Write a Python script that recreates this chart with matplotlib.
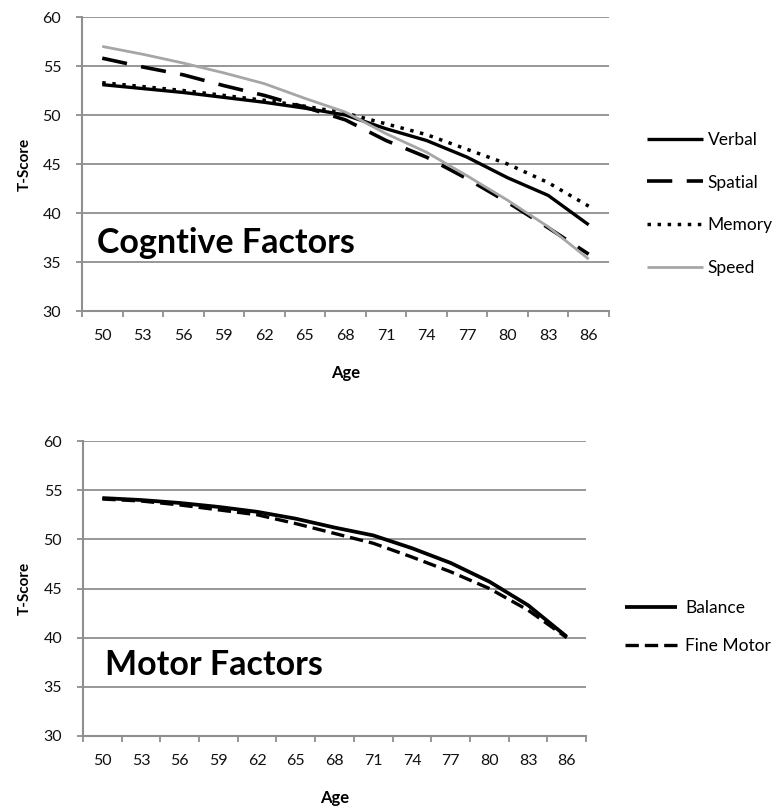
import matplotlib
matplotlib.use('Agg')
import matplotlib.pyplot as plt
import numpy as np

ages = [50, 53, 56, 59, 62, 65, 68, 71, 74, 77, 80, 83, 86]
verbal = [53.1, 52.7, 52.3, 51.8, 51.3, 50.7, 50.0, 48.6, 47.4, 45.7, 43.6, 41.8, 38.8]
spatial = [55.8, 54.9, 54.1, 53.0, 52.0, 50.8, 49.5, 47.4, 45.7, 43.5, 41.1, 38.5, 35.8]
memory = [53.3, 52.9, 52.5, 52.0, 51.5, 50.9, 50.2, 49.1, 48.0, 46.5, 45.0, 43.1, 40.7]
speed = [57.0, 56.2, 55.3, 54.3, 53.2, 51.7, 50.3, 48.1, 46.2, 43.8, 41.3, 38.6, 35.3]

balance = [54.2, 54.0, 53.7, 53.3, 52.8, 52.1, 51.2, 50.4, 49.1, 47.6, 45.7, 43.3, 40.1]
fine_motor = [54.1, 53.9, 53.5, 53.0, 52.5, 51.6, 50.6, 49.6, 48.2, 46.7, 45.0, 42.8, 40.0]

yticks = [30, 35, 40, 45, 50, 55, 60]

plt.rcParams['font.family'] = ['Lato', 'DejaVu Sans']

GRID = '#8f8f8f'

fig = plt.figure(figsize=(7.8, 8.11), dpi=100)
ax1 = fig.add_axes([0.1051, 0.6165, 0.6756, 0.3625])
ax2 = fig.add_axes([0.1064, 0.0925, 0.645, 0.3637])


def style(ax, ylab_x):
    x = np.arange(len(ages))
    ax.set_xlim(-0.5, len(ages) - 0.5)
    ax.set_ylim(30, 60)
    ax.set_yticks(yticks)
    ax.set_yticklabels([str(v) for v in yticks])
    ax.set_xticks(x)
    ax.set_xticklabels([str(a) for a in ages])
    ax.set_xticks(np.arange(-0.5, len(ages)), minor=True)
    ax.tick_params(axis='x', which='major', length=0, pad=13, labelsize=11.5, labelcolor='#111111')
    ax.tick_params(axis='x', which='minor', length=4, color=GRID, width=1.3, direction='out')
    ax.tick_params(axis='y', length=4, color=GRID, width=1.3, pad=11, labelsize=11.5, labelcolor='#111111')
    ax.yaxis.grid(True, color=GRID, lw=1.3)
    ax.set_axisbelow(True)
    for s in ['top', 'right']:
        ax.spines[s].set_visible(False)
    for s in ['left', 'bottom']:
        ax.spines[s].set_color(GRID)
        ax.spines[s].set_linewidth(1.5)
    ax.set_xlabel('Age', fontsize=12, fontweight='bold')
    ax.set_ylabel('T-Score', fontsize=11, fontweight='bold')
    ax.xaxis.set_label_coords(0.5, -62 / 294)
    ax.xaxis.label.set_va('center')
    ax.yaxis.set_label_coords(ylab_x, 0.5)
    ax.yaxis.label.set_va('center')


style(ax1, -0.108)
style(ax2, -0.115)

x = np.arange(len(ages))
ax1.plot(x, verbal, color='black', lw=2.4, label='Verbal', solid_capstyle='butt')
ax1.plot(x, spatial, color='black', lw=2.6, dashes=(7, 4), label='Spatial', dash_capstyle='butt')
ax1.plot(x, memory, color='black', lw=2.5, dashes=(1, 1.9), label='Memory', dash_capstyle='butt')
ax1.plot(x, speed, color='#a6a6a6', lw=2.0, label='Speed', solid_capstyle='butt')

ax2.plot(x, balance, color='black', lw=2.7, label='Balance', solid_capstyle='butt')
ax2.plot(x, fine_motor, color='black', lw=2.4, dashes=(4, 1.8), label='Fine Motor', dash_capstyle='butt')

ax1.text(0.0285, 0.231, 'Cogntive Factors', transform=ax1.transAxes, fontsize=24.5,
         fontweight='bold', ha='left', va='center')
ax2.text(0.0437, 0.2407, 'Motor Factors', transform=ax2.transAxes, fontsize=24.5,
         fontweight='bold', ha='left', va='center')

leg1 = ax1.legend(loc='center left', bbox_to_anchor=(647 / 780, 1 - 204 / 811),
                  bbox_transform=fig.transFigure, frameon=False, fontsize=12.5,
                  handlelength=3.2, handletextpad=0.3, labelspacing=1.55,
                  borderpad=0, borderaxespad=0)
leg2 = ax2.legend(loc='center left', bbox_to_anchor=(625 / 780, 1 - 627 / 811),
                  bbox_transform=fig.transFigure, frameon=False, fontsize=12.5,
                  handlelength=3.0, handletextpad=0.45, labelspacing=1.3,
                  borderpad=0, borderaxespad=0)

fig.savefig('out.png', dpi=100)
